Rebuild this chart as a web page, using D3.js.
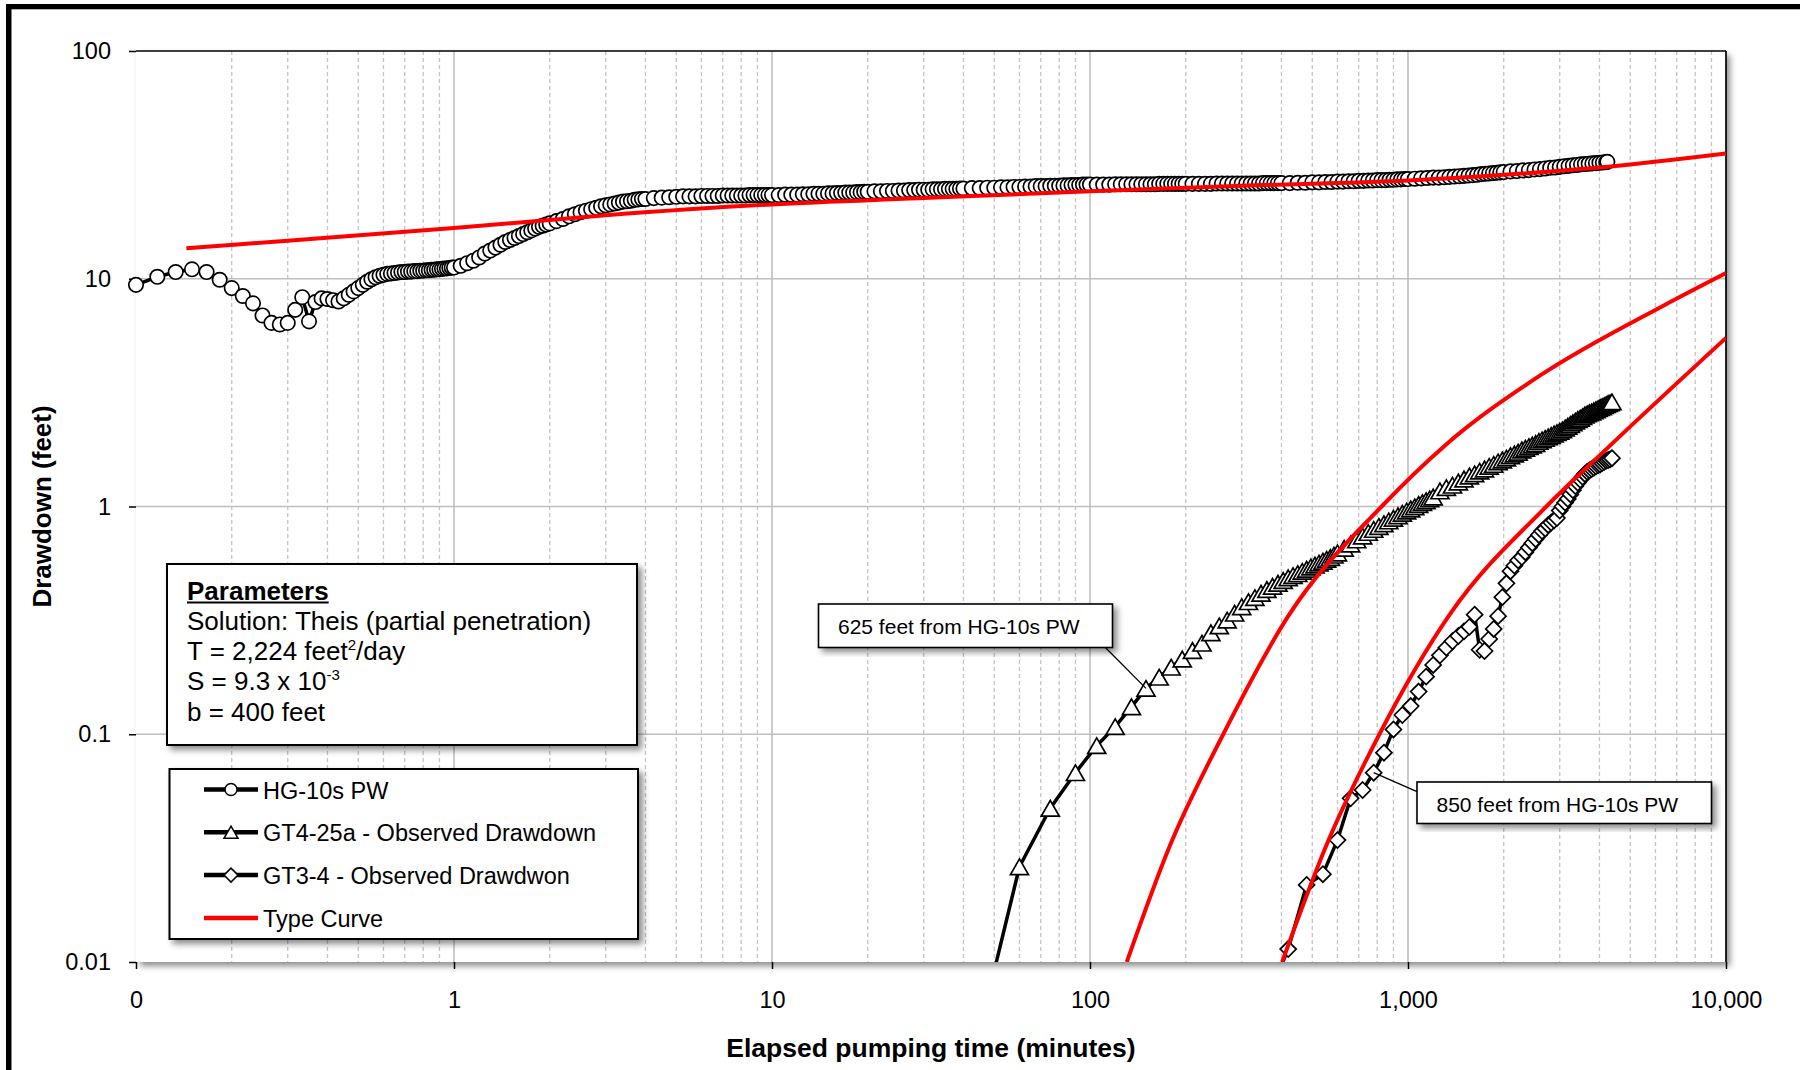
<!DOCTYPE html>
<html>
<head>
<meta charset="utf-8">
<script src="https://cdn.jsdelivr.net/npm/d3@7"></script>
<style>
  html, body { margin: 0; padding: 0; background: #fff; }
  svg { display: block; font-family: "Liberation Sans", Arial, sans-serif; }
</style>
</head>
<body>
<svg id="chart" width="1800" height="1070"></svg>
<script>
// ---- data (time in minutes, drawdown in feet) ----
const xTicks = [0.1, 1, 10, 100, 1000, 10000];
const xTickLabels = ['0', '1', '10', '100', '1,000', '10,000'];
const yTicks = [0.01, 0.1, 1, 10, 100];
const yTickLabels = ['0.01', '0.1', '1', '10', '100'];

const seriesNames = ['HG-10s PW', 'GT4-25a - Observed Drawdown', 'GT3-4 - Observed Drawdwon', 'Type Curve'];

const hgPW = [
  [0.1, 9.4], [0.1167, 10.2], [0.1333, 10.7], [0.15, 11.0], [0.1667, 10.7], [0.1833, 9.9], [0.2, 9.1], [0.2167, 8.4],
  [0.2333, 7.8], [0.25, 6.9], [0.2667, 6.4], [0.2833, 6.3], [0.3, 6.4], [0.3167, 7.3], [0.3333, 8.3], [0.35, 6.5],
  [0.3667, 7.9], [0.3833, 8.2], [0.4, 8.15], [0.4167, 8.05], [0.4333, 7.95], [0.45, 8.2], [0.4667, 8.5], [0.4833, 8.8],
  [0.5, 9.1], [0.5167, 9.4], [0.5333, 9.7], [0.55, 9.95], [0.5667, 10.15], [0.5833, 10.3], [0.6, 10.4], [0.6167, 10.5],
  [0.6333, 10.55], [0.65, 10.6], [0.6667, 10.65], [0.6833, 10.7], [0.7, 10.7], [0.7167, 10.75], [0.7333, 10.75], [0.75, 10.8],
  [0.7667, 10.8], [0.7833, 10.85], [0.8, 10.85], [0.8167, 10.9], [0.8333, 10.9], [0.85, 10.95], [0.8667, 10.95], [0.8833, 11.0],
  [0.9, 11.0], [0.9167, 11.05], [0.9333, 11.1], [0.95, 11.1], [0.9667, 11.15], [0.9833, 11.2], [1.0, 11.2],
  [1.05, 11.4], [1.1, 11.7], [1.15, 12.0], [1.2, 12.4], [1.25, 12.9], [1.3, 13.3], [1.35, 13.7], [1.4, 14.1], [1.45, 14.5], [1.5, 14.8],
  [1.55, 15.1], [1.6, 15.4], [1.65, 15.7], [1.7, 16.0], [1.75, 16.3], [1.8, 16.6], [1.85, 16.9], [1.9, 17.1], [1.95, 17.3], [2.0, 17.5],
  [2.1, 17.9], [2.2, 18.3], [2.3, 18.8], [2.4, 19.2], [2.5, 19.6], [2.6, 19.9], [2.7, 20.2], [2.8, 20.5], [2.9, 20.8], [3.0, 21.0],
  [3.1, 21.2], [3.2, 21.4], [3.3, 21.6], [3.4, 21.8], [3.5, 21.9], [3.6, 22.0], [3.7, 22.2], [3.8, 22.3], [3.9, 22.4], [4.0, 22.4],
  [4.25, 22.6], [4.5, 22.7], [4.75, 22.8], [5.0, 22.9], [5.25, 23.0], [5.5, 23.0], [5.75, 23.0], [6.0, 23.1], [6.25, 23.1], [6.5, 23.1],
  [6.75, 23.1], [7.0, 23.2], [7.25, 23.2], [7.5, 23.2], [7.75, 23.2], [8.0, 23.2], [8.25, 23.2], [8.5, 23.3], [8.75, 23.3], [9.0, 23.3],
  [9.25, 23.3], [9.5, 23.3], [9.75, 23.3], [10, 23.3],
  [10.5, 23.3], [11, 23.4], [11.5, 23.4], [12, 23.4], [12.5, 23.5], [13, 23.5], [13.5, 23.6], [14, 23.6], [14.5, 23.6], [15, 23.7],
  [15.5, 23.7], [16, 23.8], [16.5, 23.8], [17, 23.9], [17.5, 23.9], [18, 23.9], [18.5, 24.0], [19, 24.0], [19.5, 24.1], [20, 24.1],
  [21, 24.2], [22, 24.2], [23, 24.3], [24, 24.3], [25, 24.4], [26, 24.4], [27, 24.5], [28, 24.5], [29, 24.6], [30, 24.6],
  [31, 24.6], [32, 24.7], [33, 24.7], [34, 24.7], [35, 24.8], [36, 24.8], [37, 24.8], [38, 24.8], [39, 24.9], [40, 24.9],
  [42.5, 25.0], [45, 25.0], [47.5, 25.1], [50, 25.1], [52.5, 25.2], [55, 25.2], [57.5, 25.3], [60, 25.3], [62.5, 25.4], [65, 25.4],
  [67.5, 25.5], [70, 25.5], [72.5, 25.5], [75, 25.6], [77.5, 25.6], [80, 25.6], [82.5, 25.7], [85, 25.7], [87.5, 25.8], [90, 25.8],
  [92.5, 25.8], [95, 25.9], [97.5, 25.9], [100, 25.9],
  [105, 25.9], [110, 25.9], [115, 25.9], [120, 26.0], [125, 26.0], [130, 26.0], [135, 26.0], [140, 26.0], [145, 26.0], [150, 26.0],
  [155, 26.0], [160, 26.0], [165, 26.1], [170, 26.1], [175, 26.1], [180, 26.1], [185, 26.1], [190, 26.1], [195, 26.1], [200, 26.1],
  [210, 26.1], [220, 26.1], [230, 26.1], [240, 26.1], [250, 26.2], [260, 26.2], [270, 26.2], [280, 26.2], [290, 26.2], [300, 26.2],
  [310, 26.2], [320, 26.2], [330, 26.2], [340, 26.2], [350, 26.3], [360, 26.3], [370, 26.3], [380, 26.3], [390, 26.3], [400, 26.3],
  [425, 26.3], [450, 26.4], [475, 26.4], [500, 26.5], [525, 26.5], [550, 26.6], [575, 26.6], [600, 26.7], [625, 26.7], [650, 26.8],
  [675, 26.8], [700, 26.9], [725, 26.9], [750, 27.0], [775, 27.0], [800, 27.1], [825, 27.1], [850, 27.1], [875, 27.2], [900, 27.2],
  [925, 27.3], [950, 27.3], [975, 27.4], [1000, 27.4],
  [1050, 27.5], [1100, 27.6], [1150, 27.7], [1200, 27.8], [1250, 27.8], [1300, 27.9], [1350, 28.0], [1400, 28.1], [1450, 28.2], [1500, 28.3],
  [1550, 28.4], [1600, 28.5], [1650, 28.6], [1700, 28.8], [1750, 28.9], [1800, 29.0], [1850, 29.1], [1900, 29.2], [1950, 29.3], [2000, 29.4],
  [2100, 29.6], [2200, 29.7], [2300, 29.9], [2400, 30.0], [2500, 30.2], [2600, 30.3], [2700, 30.5], [2800, 30.7], [2900, 30.8], [3000, 31.0],
  [3100, 31.2], [3200, 31.3], [3300, 31.5], [3400, 31.6], [3500, 31.8], [3600, 31.9], [3700, 32.0], [3800, 32.1], [3900, 32.2], [4000, 32.3],
  [4100, 32.4], [4200, 32.5], [4235, 32.6]
];

const gt425a = [
  [45, 0.005], [60, 0.0262], [75, 0.0473], [90, 0.0678], [105, 0.0891], [120, 0.108], [135, 0.132], [150, 0.159], [165, 0.178],
  [180, 0.197], [195, 0.214], [210, 0.233], [225, 0.251], [240, 0.279], [255, 0.299], [270, 0.317], [285, 0.34], [300, 0.363],
  [315, 0.382], [330, 0.398], [345, 0.416], [360, 0.432], [375, 0.446], [390, 0.46], [405, 0.473], [420, 0.486], [435, 0.497],
  [450, 0.507], [465, 0.519], [480, 0.53], [495, 0.542], [510, 0.553], [525, 0.564], [540, 0.575], [555, 0.586], [570, 0.597],
  [585, 0.611], [600, 0.625],
  [630, 0.655], [660, 0.684], [690, 0.713], [720, 0.742], [750, 0.769], [780, 0.793], [810, 0.817], [840, 0.84], [870, 0.864],
  [900, 0.887], [930, 0.91], [960, 0.933], [990, 0.954], [1020, 0.975], [1050, 0.996], [1080, 1.02], [1110, 1.04], [1140, 1.06],
  [1170, 1.08], [1200, 1.10],
  [1260, 1.17], [1320, 1.21], [1380, 1.24], [1440, 1.28], [1500, 1.32], [1560, 1.36], [1620, 1.39], [1680, 1.43], [1740, 1.46],
  [1800, 1.50], [1860, 1.53], [1920, 1.57], [1980, 1.60], [2040, 1.63], [2100, 1.67], [2160, 1.70], [2220, 1.73], [2280, 1.77],
  [2340, 1.80], [2400, 1.83], [2460, 1.86], [2520, 1.89], [2580, 1.93], [2640, 1.96], [2700, 1.99], [2760, 2.02], [2820, 2.05],
  [2880, 2.08], [2940, 2.11], [3000, 2.14], [3060, 2.17], [3120, 2.21], [3180, 2.25], [3240, 2.29], [3300, 2.33], [3360, 2.37],
  [3420, 2.41], [3480, 2.44], [3540, 2.48], [3600, 2.52], [3660, 2.55], [3720, 2.58], [3780, 2.60], [3840, 2.63], [3900, 2.66],
  [3960, 2.69], [4020, 2.72], [4080, 2.74], [4140, 2.77], [4200, 2.80], [4260, 2.83], [4320, 2.85], [4380, 2.88]
];

const gt34 = [
  [360, 0.0068], [420, 0.0114], [480, 0.0218], [540, 0.0243], [600, 0.0343], [660, 0.0523], [720, 0.0569], [780, 0.0678],
  [840, 0.083], [900, 0.105], [960, 0.1215], [1020, 0.133], [1080, 0.154], [1140, 0.179], [1200, 0.2015], [1260, 0.222],
  [1320, 0.24], [1380, 0.256], [1440, 0.27], [1500, 0.283], [1560, 0.296], [1620, 0.335], [1680, 0.235], [1740, 0.232],
  [1800, 0.262], [1860, 0.29], [1920, 0.33], [1980, 0.40], [2040, 0.46], [2100, 0.52], [2160, 0.55], [2220, 0.58],
  [2280, 0.60], [2340, 0.63], [2400, 0.66], [2460, 0.69], [2520, 0.72], [2580, 0.75], [2640, 0.78], [2700, 0.80],
  [2760, 0.83], [2820, 0.85], [2880, 0.87], [2940, 0.89], [3000, 0.96], [3060, 1.0], [3120, 1.04], [3180, 1.08],
  [3240, 1.13], [3300, 1.18], [3360, 1.23], [3420, 1.27], [3480, 1.31], [3540, 1.35], [3600, 1.39], [3660, 1.42],
  [3720, 1.44], [3780, 1.46], [3840, 1.48], [3900, 1.50], [3960, 1.52], [4020, 1.53], [4080, 1.55], [4140, 1.57],
  [4200, 1.59], [4260, 1.60], [4320, 1.61], [4380, 1.63]
];

// Theis type curves
const typeCurvePW = [
  [0.144, 13.6], [0.3, 14.7], [1, 16.7], [3, 19.0], [10, 21.2], [30, 22.6], [100, 24.2], [300, 25.6],
  [1000, 27.0], [2000, 28.6], [4000, 30.8], [10000, 35.5]
];
const typeCurve625 = [
  [130.5, 0.01], [177, 0.0316], [262.4, 0.1], [420, 0.33], [826, 1.0], [1305, 1.85], [2633, 3.8],
  [6332, 7.6], [10000, 10.6]
];
const typeCurve850 = [
  [402, 0.01], [551, 0.032], [813, 0.1], [1362, 0.34], [2723, 1.0], [4228, 1.8], [10000, 5.5]
];

const paramLines = [
  [{ t: 'Parameters', bold: true }],
  [{ t: 'Solution: Theis (partial penetration)' }],
  [{ t: 'T = 2,224 feet' }, { t: '2', sup: true }, { t: '/day' }],
  [{ t: 'S = 9.3 x 10' }, { t: '-3', sup: true }],
  [{ t: 'b = 400 feet' }]
];

// ---- layout ----
const W = 1800, H = 1070;
const plot = { left: 136, top: 51, right: 1726, bottom: 962 };
const FONT = '"Liberation Sans", Arial, sans-serif';

const svg = d3.select('#chart');
const x = d3.scaleLog().domain([0.1, 10000]).range([plot.left, plot.right]);
const y = d3.scaleLog().domain([0.01, 100]).range([plot.bottom, plot.top]);

const defs = svg.append('defs');
const shadow = defs.append('filter').attr('id', 'shadow')
  .attr('x', '-5%').attr('y', '-5%').attr('width', '115%').attr('height', '125%');
shadow.append('feDropShadow').attr('dx', 4).attr('dy', 4).attr('stdDeviation', 3)
  .attr('flood-color', '#000').attr('flood-opacity', 0.45);
defs.append('clipPath').attr('id', 'plotClip').append('rect')
  .attr('x', plot.left).attr('y', plot.top)
  .attr('width', plot.right - plot.left).attr('height', plot.bottom - plot.top);

// outer frame (only top and left edges are inside the picture)
svg.append('rect').attr('x', 6).attr('y', 4).attr('width', 5.5).attr('height', H).attr('fill', '#000');
svg.append('rect').attr('x', 6).attr('y', 4).attr('width', W).attr('height', 5.3).attr('fill', '#000');

// plot area
svg.append('rect')
  .attr('x', plot.left).attr('y', plot.top)
  .attr('width', plot.right - plot.left).attr('height', plot.bottom - plot.top)
  .attr('fill', '#fff').attr('filter', 'url(#shadow)');

const isMajor = v => Math.abs(Math.log10(v) - Math.round(Math.log10(v))) < 1e-6;
const grid = svg.append('g');
grid.selectAll('.minor').data(x.ticks().filter(v => !isMajor(v))).join('line')
  .attr('x1', d => x(d)).attr('x2', d => x(d)).attr('y1', plot.top).attr('y2', plot.bottom)
  .attr('stroke', '#c4c4c4').attr('stroke-width', 1.3).attr('stroke-dasharray', '4,3');
grid.selectAll('.vmajor').data(xTicks.slice(1, -1)).join('line')
  .attr('x1', d => x(d)).attr('x2', d => x(d)).attr('y1', plot.top).attr('y2', plot.bottom)
  .attr('stroke', '#bfbfbf').attr('stroke-width', 1.6);
grid.selectAll('.hmajor').data(yTicks.slice(1, -1)).join('line')
  .attr('x1', plot.left).attr('x2', plot.right).attr('y1', d => y(d)).attr('y2', d => y(d))
  .attr('stroke', '#bfbfbf').attr('stroke-width', 1.6);

// axes
const xAxis = svg.append('g').attr('transform', `translate(0,${plot.bottom})`)
  .call(d3.axisBottom(x).tickValues(xTicks).tickFormat((d, i) => xTickLabels[i]).tickSize(7).tickPadding(22));
const yAxis = svg.append('g').attr('transform', `translate(${plot.left},0)`)
  .call(d3.axisLeft(y).tickValues(yTicks).tickFormat((d, i) => yTickLabels[i]).tickSize(7).tickPadding(18));
[xAxis, yAxis].forEach(a => {
  a.select('.domain').remove();
  a.selectAll('.tick line').attr('stroke', '#000').attr('stroke-width', 1.5);
  a.selectAll('.tick text').attr('font-family', FONT).attr('font-size', 23.5).attr('fill', '#000');
});

// plot border
const border = svg.append('g').attr('stroke', '#000').attr('fill', 'none');
border.append('line').attr('x1', plot.left).attr('x2', plot.right).attr('y1', plot.top).attr('y2', plot.top).attr('stroke-width', 1.4);
border.append('line').attr('x1', plot.right).attr('x2', plot.right).attr('y1', plot.top).attr('y2', plot.bottom).attr('stroke-width', 1.7);

// series
const lineGen = d3.line().x(d => x(d[0])).y(d => y(d[1]));
const inDomain = d => d[1] >= 0.01 && d[1] <= 100;
const triPath = s => { const h = s * 0.866; return `M0,${-h / 2}L${s / 2},${h / 2}L${-s / 2},${h / 2}Z`; };
const diaPath = r => `M0,${-r}L${r},0L0,${r}L${-r},0Z`;

const series = svg.append('g');
function drawSeries(data, marker) {
  const g = series.append('g');
  g.append('path').datum(data).attr('d', lineGen).attr('clip-path', 'url(#plotClip)')
    .attr('fill', 'none').attr('stroke', '#000').attr('stroke-width', 3.5).attr('stroke-linejoin', 'round');
  const pts = g.selectAll('.pt').data(data.filter(inDomain)).join('g')
    .attr('transform', d => `translate(${x(d[0])},${y(d[1])})`);
  marker(pts);
}
drawSeries(hgPW, s => s.append('circle').attr('r', 7.2).attr('fill', '#fff').attr('stroke', '#000').attr('stroke-width', 1.7));
drawSeries(gt425a, s => s.append('path').attr('d', triPath(18)).attr('fill', '#fff').attr('stroke', '#000').attr('stroke-width', 1.7));
drawSeries(gt34, s => s.append('path').attr('d', diaPath(8)).attr('fill', '#fff').attr('stroke', '#000').attr('stroke-width', 1.7));

const curveGen = d3.line().x(d => x(d[0])).y(d => y(d[1])).curve(d3.curveMonotoneX);
svg.append('g').attr('clip-path', 'url(#plotClip)')
  .selectAll('path').data([typeCurvePW, typeCurve625, typeCurve850]).join('path')
  .attr('d', curveGen).attr('fill', 'none').attr('stroke', '#ff0000').attr('stroke-width', 4);

// axis titles
svg.append('text').attr('x', (plot.left + plot.right) / 2).attr('y', 1057)
  .attr('text-anchor', 'middle').attr('font-family', FONT).attr('font-weight', 'bold').attr('font-size', 26.5)
  .text('Elapsed pumping time (minutes)');
svg.append('text').attr('transform', `translate(51,${(plot.top + plot.bottom) / 2}) rotate(-90)`)
  .attr('text-anchor', 'middle').attr('font-family', FONT).attr('font-weight', 'bold').attr('font-size', 26)
  .text('Drawdown (feet)');

// parameters box
const pBox = { x: 167, y: 564, w: 470, h: 181 };
svg.append('rect').attr('x', pBox.x).attr('y', pBox.y).attr('width', pBox.w).attr('height', pBox.h)
  .attr('fill', '#fff').attr('stroke', '#000').attr('stroke-width', 2).attr('filter', 'url(#shadow)');
paramLines.forEach((parts, i) => {
  const t = svg.append('text').attr('x', pBox.x + 20).attr('y', pBox.y + 35.5 + i * 30.3)
    .attr('font-family', FONT).attr('font-size', 26).attr('fill', '#000');
  parts.forEach((p, j) => {
    const ts = t.append('tspan').text(p.t);
    if (p.bold) ts.attr('font-weight', 'bold');
    if (p.sup) ts.attr('font-size', 15).attr('dy', -10);
    else if (j > 0 && parts[j - 1].sup) ts.attr('dy', 10);
  });
  if (parts[0].bold) {
    const len = t.node().getComputedTextLength();
    svg.append('line').attr('x1', pBox.x + 20).attr('x2', pBox.x + 20 + len)
      .attr('y1', pBox.y + 38.5 + i * 30.3).attr('y2', pBox.y + 38.5 + i * 30.3)
      .attr('stroke', '#000').attr('stroke-width', 2);
  }
});

// legend
const lBox = { x: 169.5, y: 769, w: 468.5, h: 170 };
svg.append('rect').attr('x', lBox.x).attr('y', lBox.y).attr('width', lBox.w).attr('height', lBox.h)
  .attr('fill', '#fff').attr('stroke', '#000').attr('stroke-width', 2).attr('filter', 'url(#shadow)');
const legendMarkers = [
  g => g.append('circle').attr('r', 6),
  g => g.append('path').attr('d', triPath(14)),
  g => g.append('path').attr('d', diaPath(7)),
  null
];
seriesNames.forEach((name, i) => {
  const cy = lBox.y + 20.5 + i * 42.8;
  const g = svg.append('g').attr('transform', `translate(0,${cy})`);
  g.append('line').attr('x1', 204).attr('x2', 258).attr('y1', 0).attr('y2', 0)
    .attr('stroke', i === 3 ? '#ff0000' : '#000').attr('stroke-width', 4.5);
  if (legendMarkers[i]) {
    const m = g.append('g').attr('transform', 'translate(231,0)');
    legendMarkers[i](m);
    m.selectAll('*').attr('fill', '#fff').attr('stroke', '#000').attr('stroke-width', 1.5);
  }
  g.append('text').attr('x', 263).attr('y', 9).attr('font-family', FONT).attr('font-size', 23.5).text(name);
});

// callouts
const callouts = [
  { text: '625 feet from HG-10s PW', box: { x: 818.5, y: 604, w: 294, h: 43.5 }, from: [1105.4, 647.5], to: [150, 0.159] },
  { text: '850 feet from HG-10s PW', box: { x: 1417, y: 782, w: 294.5, h: 41.5 }, from: [1417, 791.7], to: [780, 0.0678] }
];
callouts.forEach(c => {
  svg.append('line').attr('x1', c.from[0]).attr('y1', c.from[1])
    .attr('x2', x(c.to[0])).attr('y2', y(c.to[1])).attr('stroke', '#000').attr('stroke-width', 1.3);
  svg.append('rect').attr('x', c.box.x).attr('y', c.box.y).attr('width', c.box.w).attr('height', c.box.h)
    .attr('fill', '#fff').attr('stroke', '#000').attr('stroke-width', 1.6).attr('filter', 'url(#shadow)');
  svg.append('text').attr('x', c.box.x + 19.5).attr('y', c.box.y + 30).attr('font-family', FONT)
    .attr('font-size', 21).text(c.text);
});
</script>
</body>
</html>
